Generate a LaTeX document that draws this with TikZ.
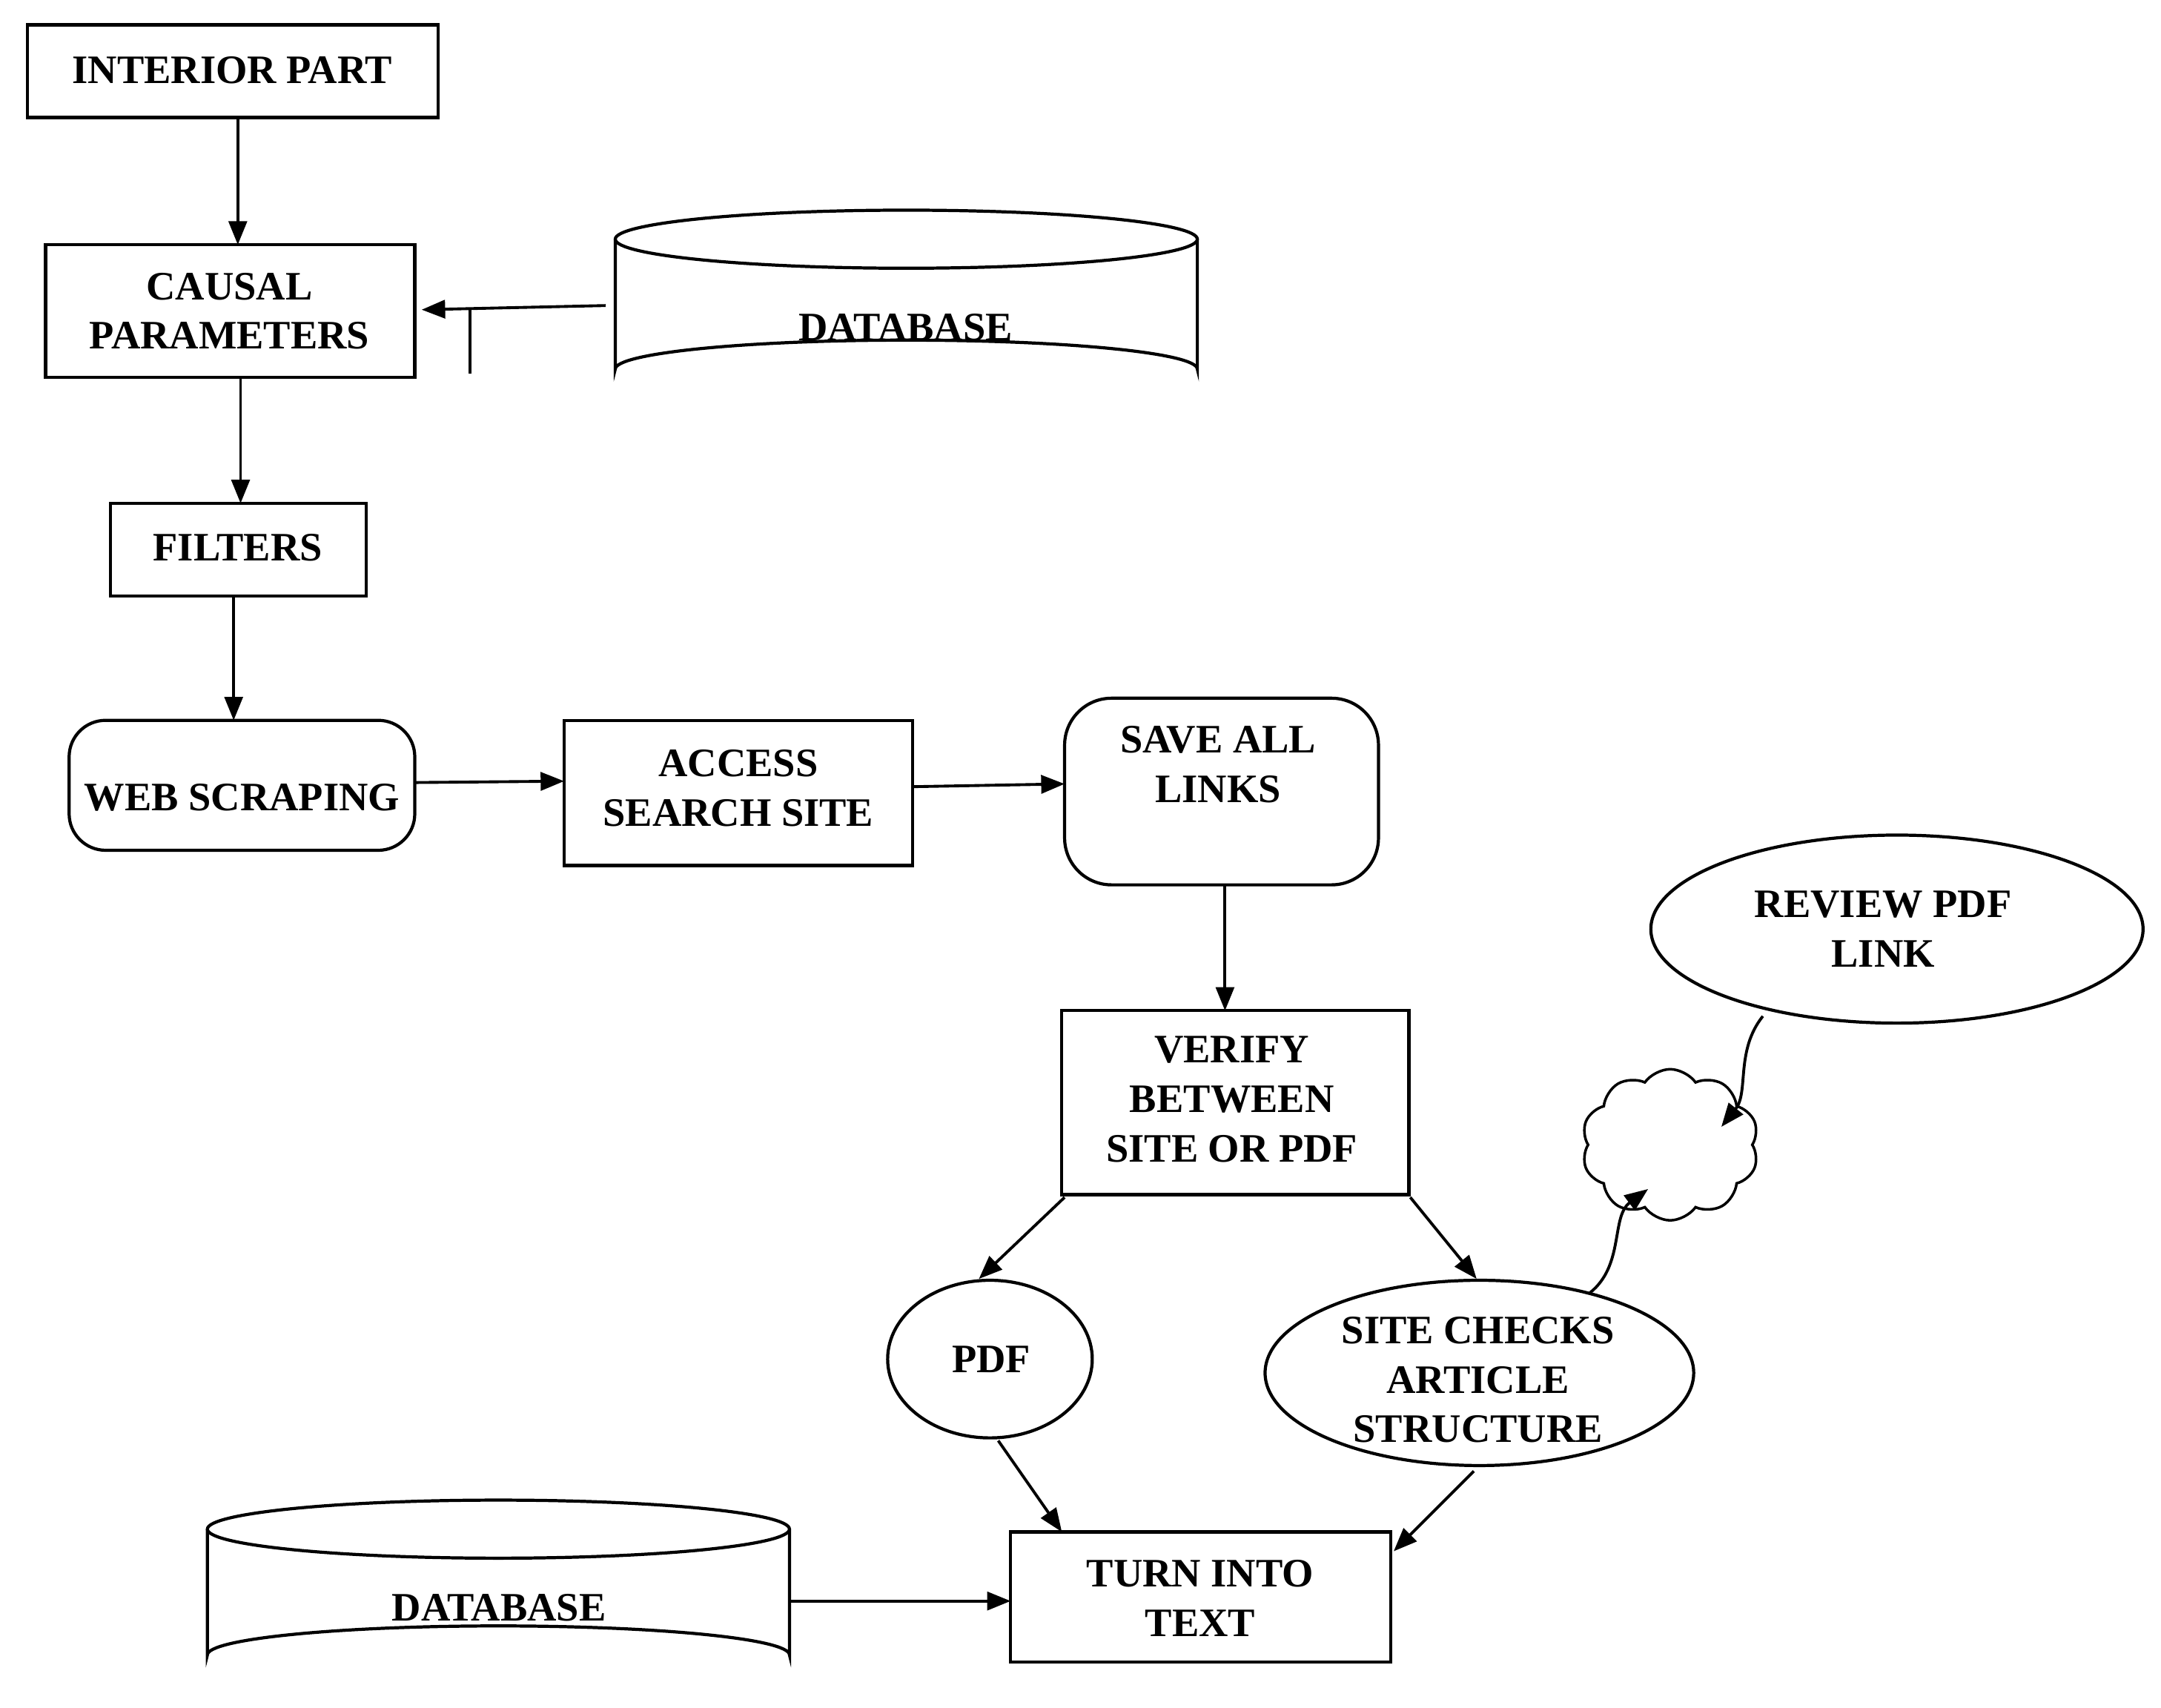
\documentclass[tikz,border=0pt]{standalone}
\usepackage{fontspec}
\setmainfont{Liberation Serif}
\usetikzlibrary{shapes.symbols,shapes.geometric,arrows.meta}
\begin{document}
\begin{tikzpicture}[x=0.01865cm,y=-0.01865cm,
  txt/.style={font=\bfseries\fontsize{15.5}{19}\selectfont,align=center,inner sep=0pt},
  box/.style={draw,line width=1.2pt},
  arr/.style={-{Triangle[length=9pt,width=7pt]},line width=1.1pt}]
\useasboundingbox (0,0) rectangle (1563,1235);
% boxes
\draw[box] (20,18) rectangle (317,85); \node[txt] (ip) at (168,51) {INTERIOR PART};
\coordinate (ipb) at (172,85);
\draw[box] (33,177) rectangle (300,273); \node[txt] (cp) at (166,225) {CAUSAL\\PARAMETERS};
\draw[box] (80,364) rectangle (265,431); \node[txt] (fi) at (172,396) {FILTERS};
\draw[box,rounded corners=14pt] (50,521) rectangle (300,615); \node[txt] (ws) at (175,577) {WEB SCRAPING};
\draw[box] (408,521) rectangle (660,626); \node[txt] (as) at (534,570) {ACCESS\\SEARCH SITE};
\draw[box,rounded corners=18pt] (770,505) rectangle (997,640); \node[txt] (sl) at (881,553) {SAVE ALL\\LINKS};
\draw[box] (768,731) rectangle (1019,864); \node[txt] (vf) at (891,795) {VERIFY\\BETWEEN\\SITE OR PDF};
\draw[box] (731,1108) rectangle (1006,1202); \node[txt] (tt) at (868,1156) {TURN INTO\\TEXT};
% ellipses
\draw[box] (1372,672) ellipse [x radius=178,y radius=68]; \node[txt] (rv) at (1362,672) {REVIEW PDF\\LINK};
\draw[box] (716,983) ellipse [x radius=74,y radius=57]; \node[txt] (pdf) at (717,983) {PDF};
\draw[box] (1070,993) ellipse [x radius=155,y radius=67]; \node[txt] (sc) at (1069,998) {SITE CHECKS\\ARTICLE\\STRUCTURE};
\node[cloud,draw,line width=1pt,cloud puffs=10,minimum width=68pt,minimum height=58pt,inner sep=0pt,cloud puff arc=110] (cl) at (1208,828) {};
% cylinders
\draw[box] (445,173) -- (445,267) arc[start angle=180,end angle=360,x radius=210.5,y radius=21] -- (866,173);
\draw[box] (655.5,173) ellipse [x radius=210.5,y radius=21];
\node[txt] (db1) at (655,237) {DATABASE};
\draw[box] (150,1106) -- (150,1197) arc[start angle=180,end angle=360,x radius=210.5,y radius=21] -- (571,1106);
\draw[box] (360.5,1106) ellipse [x radius=210.5,y radius=21];
\node[txt] (db2) at (361,1163) {DATABASE};
% connectors
\draw[arr] (172,85) -- (172,177);
\draw[arr] (438,221) -- (305,224);
\draw[line width=1pt] (340,224) -- (340,270);
\draw[arr] (174,273) -- (174,364);
\draw[arr] (169,431) -- (169,521);
\draw[arr] (300,566) -- (408,565);
\draw[arr] (660,569) -- (770,567);
\draw[arr] (886,640) -- (886,731);
\draw[arr] (770,866) -- (708,925);
\draw[arr] (1020,866) -- (1068,925);
\draw[arr] (722,1042) -- (768,1108);
\draw[arr] (1066,1064) -- (1008,1122);
\draw[arr] (571,1158) -- (731,1158);
\draw[arr] (1150,935) .. controls (1175,915) and (1165,880) .. (1192,860);
\draw[arr] (1275,735) .. controls (1255,760) and (1265,790) .. (1245,815);
\end{tikzpicture}
\end{document}
